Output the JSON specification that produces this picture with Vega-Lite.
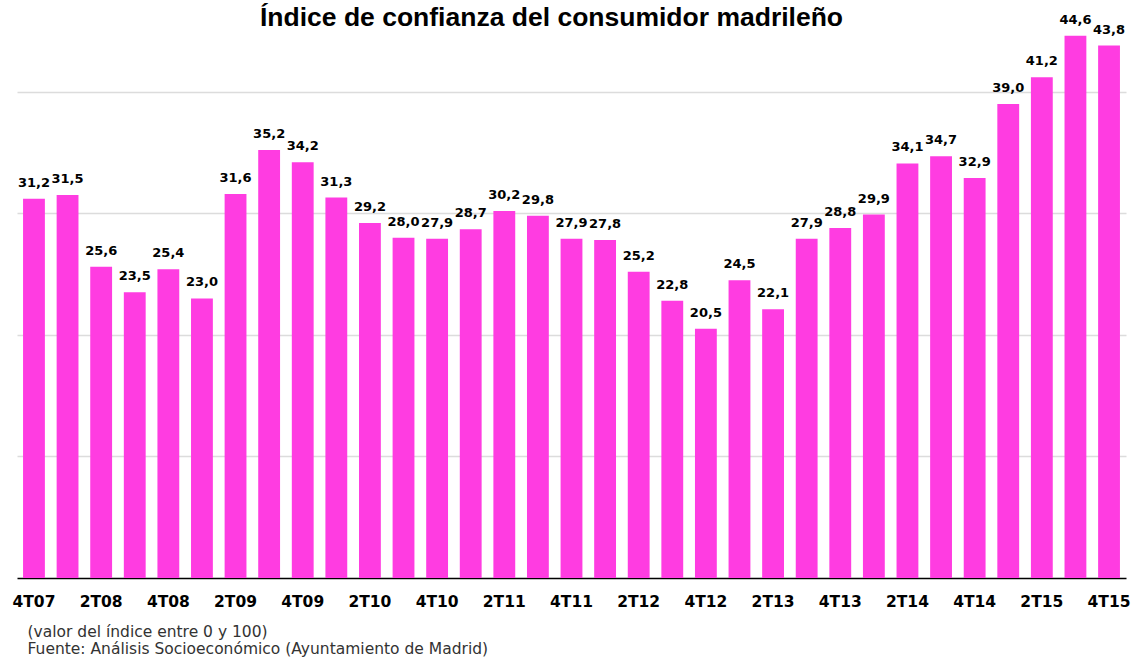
{
  "$schema": "https://vega.github.io/schema/vega-lite/v6.json",
  "width": 1109,
  "height": 547,
  "autosize": {"type": "none"},
  "padding": {"left": 17, "top": 31, "right": 6, "bottom": 81},
  "background": "#ffffff",
  "title": {
    "text": "Índice de confianza del consumidor madrileño",
    "font": "Liberation Sans",
    "fontSize": 26.5,
    "fontWeight": "bold",
    "color": "#000000",
    "anchor": "middle",
    "baseline": "top",
    "dx": -20,
    "offset": -18
  },
  "data": {
    "values": [
      {"q": "4T07", "v": 31.2}, {"q": "1T08", "v": 31.5}, {"q": "2T08", "v": 25.6},
      {"q": "3T08", "v": 23.5}, {"q": "4T08", "v": 25.4}, {"q": "1T09", "v": 23.0},
      {"q": "2T09", "v": 31.6}, {"q": "3T09", "v": 35.2}, {"q": "4T09", "v": 34.2},
      {"q": "1T10", "v": 31.3}, {"q": "2T10", "v": 29.2}, {"q": "3T10", "v": 28.0},
      {"q": "4T10", "v": 27.9}, {"q": "1T11", "v": 28.7}, {"q": "2T11", "v": 30.2},
      {"q": "3T11", "v": 29.8}, {"q": "4T11", "v": 27.9}, {"q": "1T12", "v": 27.8},
      {"q": "2T12", "v": 25.2}, {"q": "3T12", "v": 22.8}, {"q": "4T12", "v": 20.5},
      {"q": "1T13", "v": 24.5}, {"q": "2T13", "v": 22.1}, {"q": "3T13", "v": 27.9},
      {"q": "4T13", "v": 28.8}, {"q": "1T14", "v": 29.9}, {"q": "2T14", "v": 34.1},
      {"q": "3T14", "v": 34.7}, {"q": "4T14", "v": 32.9}, {"q": "1T15", "v": 39.0},
      {"q": "2T15", "v": 41.2}, {"q": "3T15", "v": 44.6}, {"q": "4T15", "v": 43.8}
    ]
  },
  "encoding": {
    "x": {
      "field": "q",
      "type": "ordinal",
      "sort": null,
      "scale": {"paddingInner": 0.35, "paddingOuter": 0.18},
      "axis": {
        "values": ["4T07", "2T08", "4T08", "2T09", "4T09", "2T10", "4T10", "2T11", "4T11", "2T12", "4T12", "2T13", "4T13", "2T14", "4T14", "2T15", "4T15"],
        "labelAngle": 0,
        "labelFont": "DejaVu Sans",
        "labelFontWeight": "bold",
        "labelFontSize": 15.5,
        "labelColor": "#000000",
        "labelPadding": 16,
        "ticks": false,
        "domainColor": "#000000",
        "domainWidth": 1.5,
        "title": ["(valor del índice entre 0 y 100)", "Fuente: Análisis Socioeconómico (Ayuntamiento de Madrid)"],
        "titleFont": "DejaVu Sans",
        "titleFontSize": 15.5,
        "titleFontWeight": "normal",
        "titleColor": "#333333",
        "titleLineHeight": 17,
        "titleAnchor": "start",
        "titleAlign": "left",
        "titleBaseline": "top",
        "titleX": 10,
        "titleY": 46
      }
    },
    "y": {
      "field": "v",
      "type": "quantitative",
      "scale": {"domain": [0, 45], "nice": false},
      "axis": {
        "values": [10, 20, 30, 40],
        "labels": false,
        "ticks": false,
        "domain": false,
        "grid": true,
        "gridColor": "#dcdcdc",
        "gridWidth": 1.5,
        "title": null
      }
    }
  },
  "layer": [
    {"mark": {"type": "bar", "color": "#ff3ce1"}},
    {
      "mark": {"type": "text", "baseline": "alphabetic", "dy": -12, "font": "DejaVu Sans", "fontWeight": "bold", "fontSize": 13, "color": "#000000"},
      "encoding": {"text": {"field": "v", "type": "quantitative", "format": ".1f"}}
    }
  ],
  "config": {
    "view": {"stroke": null},
    "locale": {"number": {"decimal": ",", "thousands": ".", "grouping": [3], "currency": ["", " €"]}}
  }
}
